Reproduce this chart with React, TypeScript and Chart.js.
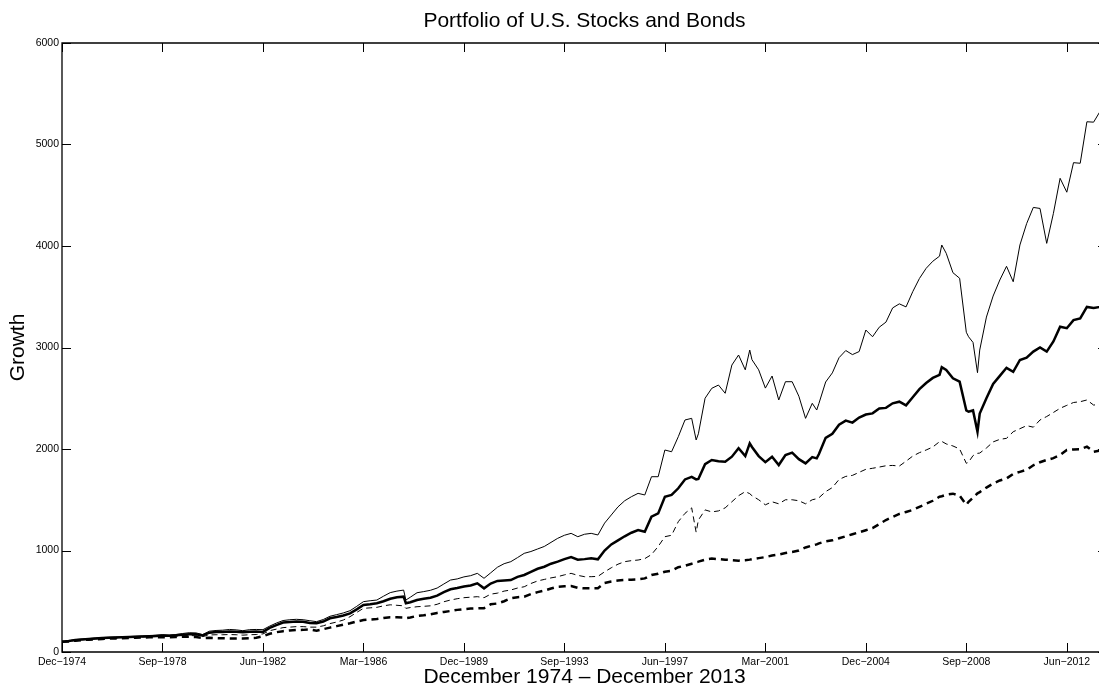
import React, { useEffect, useRef } from "react";
import { Chart, registerables } from "chart.js";

Chart.register(...registerables);

// Months since December 1974
const months = [
  0, 3, 6, 9, 12, 15, 18, 21, 24, 27,
  30, 33, 36, 39, 42, 45, 48, 51, 54, 57,
  60, 63, 66, 69, 72, 75, 78, 81, 84, 87,
  90, 93, 96, 99, 102, 105, 108, 111, 114, 117,
  120, 123, 126, 129, 132, 135, 138, 141, 144, 147,
  150, 153, 154, 156, 159, 162, 165, 168, 171, 174,
  177, 180, 183, 186, 189, 192, 195, 198, 201, 204,
  207, 210, 213, 216, 219, 222, 225, 228, 231, 234,
  237, 240, 243, 246, 249, 252, 255, 258, 261, 264,
  267, 270, 273, 276, 279, 282, 284, 285, 288, 291,
  294, 297, 300, 303, 306, 308, 309, 312, 315, 318,
  321, 324, 327, 330, 333, 336, 338, 339, 342, 345,
  348, 351, 354, 357, 360, 363, 366, 369, 372, 375,
  378, 381, 384, 387, 390, 393, 394, 396, 399, 402,
  405, 406, 408, 410, 411, 414, 417, 420, 423, 426,
  429, 432, 435, 438, 441, 444, 447, 450, 453, 456,
  459, 462, 465, 468,
];

const seriesThinSolid = [
  100, 110, 122, 128, 132, 138, 142, 146, 148, 150,
  152, 155, 158, 160, 165, 170, 166, 172, 182, 190,
  188, 172, 205, 212, 215, 222, 218, 210, 220, 222,
  220, 255, 285, 310, 318, 322, 318, 308, 299, 320,
  352, 368, 385, 407, 450, 496, 505, 512, 550, 585,
  600, 610, 512, 540, 584, 595, 608, 630, 670, 709,
  720, 740, 752, 775, 726, 780, 835, 870, 890, 930,
  972, 990, 1015, 1040, 1080, 1120, 1150, 1169, 1136, 1160,
  1169, 1153, 1270, 1350, 1430, 1490, 1530, 1563, 1547, 1727,
  1727, 1990, 1973, 2121, 2286, 2302, 2089, 2150, 2500, 2598,
  2630, 2549, 2827, 2926, 2780, 2975, 2880, 2780, 2600, 2719,
  2483, 2663, 2663, 2520, 2302, 2450, 2384, 2450, 2660, 2750,
  2900, 2970, 2930, 2960, 3172, 3106, 3200, 3250, 3390, 3430,
  3400, 3550, 3680, 3780, 3850, 3900, 4010, 3928, 3737, 3682,
  3150, 3106, 3050, 2752, 2975, 3300, 3507, 3665, 3800, 3648,
  4010, 4220, 4380, 4370, 4026, 4322, 4667, 4530, 4821, 4815,
  5224, 5220, 5330, 5400,
];

const seriesThickSolid = [
  100, 108, 118, 124, 128, 133, 137, 141, 143, 145,
  147, 150, 152, 155, 158, 162, 159, 164, 171, 176,
  175, 163, 190, 196, 198, 202, 200, 195, 200, 202,
  198, 238, 265, 290, 296, 300, 298, 285, 283, 300,
  332, 345, 360, 381, 420, 463, 470, 480, 500, 525,
  540, 545, 480, 490, 512, 525, 535, 555, 590, 618,
  630, 645, 655, 677, 627, 675, 700, 705, 709, 740,
  759, 790, 820, 840, 870, 890, 915, 935, 910, 915,
  923, 913, 1000, 1060, 1100, 1140, 1175, 1202, 1185, 1333,
  1366, 1530, 1547, 1613, 1700, 1725, 1700, 1705, 1850, 1892,
  1880, 1875, 1924, 2007, 1930, 2056, 2020, 1930, 1870, 1924,
  1842, 1941, 1964, 1900, 1859, 1920, 1908, 1950, 2110, 2150,
  2240, 2280, 2260, 2310, 2340, 2351, 2400, 2405, 2450, 2466,
  2430, 2510, 2590, 2650, 2700, 2730, 2805, 2778, 2696, 2663,
  2380, 2367, 2380, 2170, 2350, 2500, 2640, 2720, 2800, 2761,
  2877, 2900, 2960, 3000, 2959, 3060, 3205, 3190, 3270, 3287,
  3400, 3390, 3400, 3430,
];

const seriesThinDashed = [
  100, 106, 115, 121, 125, 129, 133, 137, 139, 141,
  143, 146, 148, 150, 152, 153, 152, 156, 160, 162,
  160, 152, 168, 170, 170, 172, 170, 166, 170, 172,
  178, 210, 225, 240, 245, 250, 250, 245, 245, 258,
  280, 295, 315, 348, 390, 430, 435, 440, 455, 465,
  460, 455, 430, 438, 446, 450, 455, 470, 495, 512,
  525, 535, 540, 545, 535, 570, 580, 600, 611, 630,
  643, 675, 700, 715, 730, 742, 760, 775, 755, 742,
  742, 745, 790, 830, 865, 890, 900, 906, 920, 960,
  1040, 1136, 1150, 1284, 1366, 1420, 1180, 1300, 1400, 1380,
  1390, 1420, 1480, 1540, 1580, 1560, 1540, 1500, 1450, 1480,
  1460, 1500, 1500, 1490, 1460, 1500, 1510, 1520, 1580, 1620,
  1700, 1730, 1740, 1770, 1800, 1810, 1822, 1835, 1838, 1832,
  1880, 1930, 1964, 1990, 2020, 2072, 2075, 2050, 2030, 2000,
  1859, 1870, 1935, 1957, 1960, 2010, 2070, 2095, 2105, 2170,
  2200, 2230, 2215, 2286, 2320, 2360, 2401, 2430, 2458, 2466,
  2483, 2433, 2440, 2450,
];

const seriesThickDashed = [
  100, 104, 112, 118, 121, 125, 128, 132, 134, 136,
  138, 141, 143, 145, 145, 146, 145, 148, 150, 150,
  147, 138, 140, 136, 135, 134, 133, 133, 136, 140,
  155, 180, 195, 205, 212, 217, 218, 222, 210, 225,
  240, 255, 270, 283, 300, 315, 320, 325, 335, 342,
  342, 340, 332, 340, 355, 362, 372, 385, 395, 404,
  415, 422, 428, 430, 432, 470, 478, 500, 529, 540,
  545, 570, 590, 605, 625, 643, 648, 650, 632, 627,
  627, 628, 680, 695, 705, 709, 713, 716, 725, 759,
  770, 791, 800, 835, 850, 870, 885, 890, 910, 920,
  915, 910, 905, 900, 905, 910, 915, 925, 935, 950,
  960, 975, 985, 1000, 1030, 1050, 1060, 1070, 1090, 1100,
  1120, 1140, 1160, 1180, 1200, 1220, 1260, 1300, 1330, 1360,
  1380, 1400, 1430, 1460, 1490, 1530, 1535, 1550, 1560, 1540,
  1450, 1480, 1520, 1563, 1575, 1620, 1660, 1690, 1710, 1755,
  1775, 1795, 1840, 1870, 1892, 1910, 1940, 1990, 1995, 1997,
  2023, 1973, 1985, 2000,
];

const xTickMonths = [0, 45, 90, 135, 180, 225, 270, 315, 360, 405, 450];
const xTickLabels = [
  "Dec\u22121974", "Sep\u22121978", "Jun\u22121982", "Mar\u22121986",
  "Dec\u22121989", "Sep\u22121993", "Jun\u22121997", "Mar\u22122001",
  "Dec\u22122004", "Sep\u22122008", "Jun\u22122012",
];
const yTickValues = [0, 1000, 2000, 3000, 4000, 5000, 6000];

const titleText = "Portfolio of U.S. Stocks and Bonds";
const xTitleText = "December 1974 \u2013 December 2013";
const yTitleText = "Growth";

const FONT = "'Liberation Sans', Arial, Helvetica, sans-serif";

const toPoints = (vals: number[]) => months.map((m, i) => ({ x: m, y: vals[i] }));

const framePlugin = {
  id: "matlabFrame",
  afterDraw(chart: any) {
    const { ctx, chartArea } = chart;
    const { left, top, right, bottom } = chartArea;
    const xs = chart.scales.x;
    const ys = chart.scales.y;
    const tick = 9;
    ctx.save();
    ctx.strokeStyle = "#000";
    ctx.lineWidth = 1.3;
    ctx.beginPath();
    ctx.rect(left, top, right - left, bottom - top);
    ctx.stroke();
    ctx.lineWidth = 1;
    ctx.beginPath();
    xTickMonths.forEach((m) => {
      const px = Math.round(xs.getPixelForValue(m)) + 0.5;
      ctx.moveTo(px, bottom);
      ctx.lineTo(px, bottom - tick);
      ctx.moveTo(px, top);
      ctx.lineTo(px, top + tick);
    });
    yTickValues.forEach((v) => {
      const py = Math.round(ys.getPixelForValue(v)) + 0.5;
      ctx.moveTo(left, py);
      ctx.lineTo(left + tick, py);
      ctx.moveTo(right, py);
      ctx.lineTo(right - tick, py);
    });
    ctx.stroke();
    ctx.restore();
  },
};

export default function App() {
  const ref = useRef<HTMLCanvasElement>(null);

  useEffect(() => {
    if (!ref.current) return;
    Chart.defaults.font.family = FONT;
    Chart.defaults.color = "#000";
    const chart = new Chart(ref.current, {
      type: "line",
      data: {
        datasets: [
          {
            label: "Thin solid",
            data: toPoints(seriesThinSolid),
            borderColor: "#000",
            borderWidth: 1,
            pointRadius: 0,
            tension: 0,
          },
          {
            label: "Thick solid",
            data: toPoints(seriesThickSolid),
            borderColor: "#000",
            borderWidth: 2.5,
            pointRadius: 0,
            tension: 0,
          },
          {
            label: "Thin dashed",
            data: toPoints(seriesThinDashed),
            borderColor: "#000",
            borderWidth: 1,
            borderDash: [6, 4],
            pointRadius: 0,
            tension: 0,
          },
          {
            label: "Thick dashed",
            data: toPoints(seriesThickDashed),
            borderColor: "#000",
            borderWidth: 2.5,
            borderDash: [7, 5],
            pointRadius: 0,
            tension: 0,
          },
        ],
      },
      options: {
        animation: false,
        responsive: false,
        devicePixelRatio: 1,
        layout: { padding: { left: 0, right: 13, top: 0, bottom: 0 } },
        plugins: {
          legend: { display: false },
          tooltip: { enabled: false },
          title: {
            display: true,
            text: titleText,
            fullSize: false,
            color: "#000",
            font: { size: 21, weight: "normal", family: FONT, lineHeight: 1.2 },
            padding: { top: 9, bottom: 8.8 },
          },
        },
        scales: {
          x: {
            type: "linear",
            min: 0,
            max: 468,
            grid: { display: false, drawTicks: false },
            border: { display: false },
            afterFit: (s: any) => {
              s.height = 36;
            },
            afterBuildTicks: (s: any) => {
              s.ticks = xTickMonths.map((v) => ({ value: v }));
            },
            ticks: {
              autoSkip: false,
              maxRotation: 0,
              minRotation: 0,
              padding: 4,
              color: "#000",
              font: { size: 10.5, family: FONT },
              callback: (v: any) => {
                const i = xTickMonths.indexOf(Number(v));
                return i >= 0 ? xTickLabels[i] : "";
              },
            },
            title: {
              display: true,
              text: xTitleText,
              color: "#000",
              font: { size: 21, family: FONT, lineHeight: 1 },
              padding: { top: 0, bottom: 0 },
            },
          },
          y: {
            type: "linear",
            min: 0,
            max: 6000,
            grid: { display: false, drawTicks: false },
            border: { display: false },
            afterFit: (s: any) => {
              s.width = 62;
            },
            afterBuildTicks: (s: any) => {
              s.ticks = yTickValues.map((v) => ({ value: v }));
            },
            ticks: {
              padding: 3,
              color: "#000",
              font: { size: 10.5, family: FONT },
              callback: (v: any) => String(v),
            },
            title: {
              display: true,
              text: yTitleText,
              color: "#000",
              font: { size: 21, family: FONT, lineHeight: 1 },
              padding: { top: 7.5, bottom: 0 },
            },
          },
        },
      },
      plugins: [framePlugin],
    } as any);
    return () => chart.destroy();
  }, []);

  return (
    <div
      style={{
        position: "fixed",
        left: 0,
        top: 0,
        width: 1099,
        height: 688,
        overflow: "hidden",
        background: "#fff",
      }}
    >
      <canvas
        ref={ref}
        width={1120}
        height={688}
        style={{ display: "block", width: 1120, height: 688 }}
      />
    </div>
  );
}
